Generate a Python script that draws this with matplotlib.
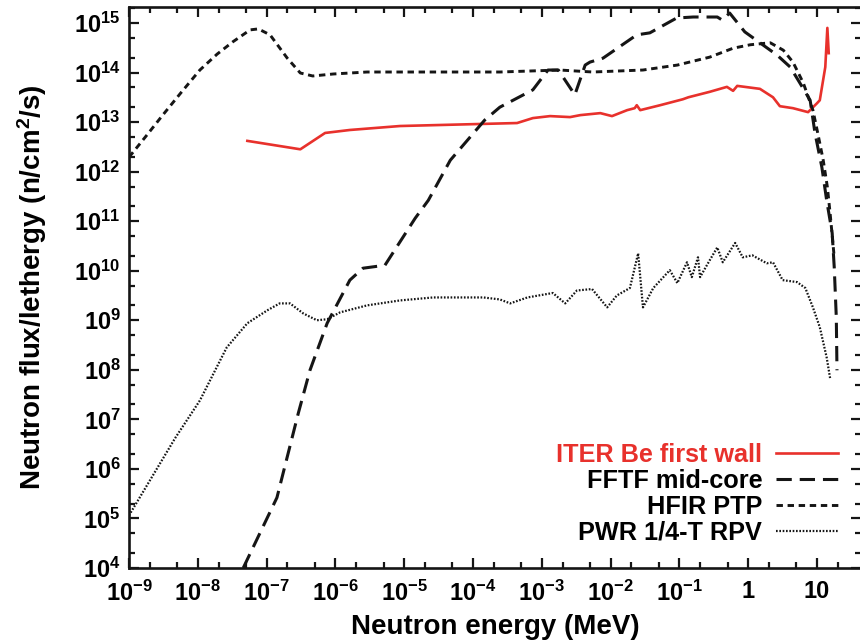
import numpy as np
import matplotlib
matplotlib.use('Agg')
import matplotlib.pyplot as plt
from matplotlib.ticker import FixedLocator, FixedFormatter, NullFormatter

plt.rcParams['font.family'] = ['Liberation Sans', 'DejaVu Sans']
plt.rcParams['font.weight'] = 'bold'
plt.rcParams['mathtext.fontset'] = 'custom'
plt.rcParams['mathtext.rm'] = 'Liberation Sans:bold'
plt.rcParams['mathtext.it'] = 'Liberation Sans:bold'
plt.rcParams['mathtext.bf'] = 'Liberation Sans:bold'
plt.rcParams['mathtext.default'] = 'rm'

# data, as log10(energy / MeV) and log10(flux)
iter_logE = [-7.28, -6.51, -6.15, -5.79, -5.06, -3.36, -3.13, -2.88, -2.59, -2.44,
             -2.15, -1.98, -1.76, -1.65, -1.62, -1.57, -1.28, -0.95, -0.87, -0.56,
             -0.31, -0.22, -0.16, 0.17, 0.36, 0.46, 0.65, 0.87, 1.0, 1.04,
             1.12, 1.15, 1.17]
iter_logF = [12.62, 12.45, 12.78, 12.84, 12.92, 12.98, 13.08, 13.12, 13.10, 13.14,
             13.18, 13.12, 13.24, 13.28, 13.34, 13.24, 13.34, 13.46, 13.50, 13.61,
             13.71, 13.63, 13.73, 13.67, 13.50, 13.32, 13.28, 13.20, 13.38, 13.44,
             14.11, 14.90, 14.39]

fftf_logE = [-7.34, -6.85, -6.54, -6.37, -6.12, -5.79, -5.60, -5.28, -4.84, -4.65,
             -4.33, -3.83, -3.61, -3.13, -2.91, -2.76, -2.52, -2.37, -2.30, -2.11,
             -1.62, -1.43, -1.04, -0.80, -0.45, -0.38, -0.27, -0.05, 0.17, 0.42,
             0.61, 0.75, 0.90, 0.97, 1.07, 1.14, 1.22, 1.25, 1.28, 1.29]
fftf_logF = [4.0, 5.42, 7.12, 7.99, 8.94, 9.81, 10.05, 10.11, 11.06, 11.42,
             12.23, 13.04, 13.30, 13.65, 14.05, 14.05, 13.55, 14.15, 14.21, 14.29,
             14.76, 14.80, 15.10, 15.12, 15.12, 15.06, 15.20, 14.82, 14.60, 14.35,
             14.11, 13.79, 13.44, 12.78, 12.09, 11.42, 10.76, 10.07, 9.06, 7.99]

hfir_logE = [-9.0, -8.75, -8.51, -8.24, -7.97, -7.72, -7.49, -7.24, -7.12, -6.95,
             -6.70, -6.51, -6.33, -6.03, -5.54, -5.06, -3.61, -2.74, -2.26, -1.53,
             -1.03, -0.56, -0.22, 0.03, 0.32, 0.51, 0.65, 0.80, 0.94, 1.01,
             1.09, 1.15, 1.19, 1.25]
hfir_logF = [12.29, 12.72, 13.14, 13.60, 14.05, 14.37, 14.62, 14.86, 14.88, 14.76,
             14.29, 13.99, 13.93, 13.97, 14.01, 14.01, 14.01, 14.05, 14.01, 14.05,
             14.15, 14.31, 14.49, 14.56, 14.60, 14.45, 14.21, 13.79, 13.24, 12.78,
             12.23, 11.69, 11.16, 10.27]

pwr_logE = [-9.0, -8.33, -7.97, -7.58, -7.28, -6.99, -6.81, -6.66, -6.47, -6.27,
            -6.12, -5.93, -5.54, -5.06, -4.58, -3.85, -3.61, -3.46, -3.21, -2.84,
            -2.66, -2.49, -2.27, -2.05, -1.91, -1.72, -1.60, -1.53, -1.38, -1.14,
            -1.03, -0.89, -0.82, -0.73, -0.70, -0.56, -0.45, -0.37, -0.19, -0.08,
            0.06, 0.27, 0.36, 0.50, 0.71, 0.83, 0.94, 1.04, 1.14, 1.19]
pwr_logF = [5.06, 6.62, 7.38, 8.45, 8.94, 9.20, 9.34, 9.34, 9.14, 9.00,
            9.02, 9.16, 9.30, 9.40, 9.46, 9.46, 9.42, 9.34, 9.46, 9.55,
            9.34, 9.60, 9.63, 9.26, 9.50, 9.65, 10.35, 9.26, 9.65, 10.01,
            9.75, 10.17, 9.87, 10.27, 9.87, 10.21, 10.47, 10.17, 10.56, 10.27,
            10.31, 10.15, 10.17, 9.81, 9.77, 9.65, 9.26, 8.86, 8.25, 7.83]

labels = ['ITER Be first wall', 'FFTF mid-core', 'HFIR PTP', 'PWR 1/4-T RPV']

xdecades = list(range(-9, 2))
xticklabels = ['$10^{%d}$' % d for d in xdecades[:-2]] + ['1', '10']
ydecades = list(range(4, 16))
yticklabels = ['$10^{%d}$' % d for d in ydecades]

red = '#e8312c'
ink = '#151515'

fig = plt.figure(figsize=(8.6, 6.41), dpi=100)
# right spine sits just past the picture's edge, as in the source
ax = fig.add_axes([0.15, 0.1139, 0.8512, 0.8752])

ax.plot(10**np.array(iter_logE), 10**np.array(iter_logF), '-', color=red, lw=1.9,
        label=labels[0])
ax.plot(10**np.array(fftf_logE), 10**np.array(fftf_logF), color=ink, lw=2.2,
        dashes=(5, 2.6), label=labels[1])
ax.plot(10**np.array(hfir_logE), 10**np.array(hfir_logF), color=ink, lw=2.1,
        dashes=(2.2, 1.6), label=labels[2])
ax.plot(10**np.array(pwr_logE), 10**np.array(pwr_logF), color=ink, lw=1.6,
        dashes=(0.75, 0.75), label=labels[3])

ax.set_xscale('log')
ax.set_yscale('log')
ax.set_xlim(1e-9, 43.6)
ax.set_ylim(1e4, 2.1e15)

xminor = [m * 10.0**d for d in range(-9, 2) for m in (2, 5)]
yminor = [m * 10.0**d for d in range(4, 16) for m in (2, 5)]
ax.xaxis.set_major_locator(FixedLocator([10.0**d for d in xdecades]))
ax.xaxis.set_major_formatter(FixedFormatter(xticklabels))
ax.xaxis.set_minor_locator(FixedLocator(xminor))
ax.xaxis.set_minor_formatter(NullFormatter())
ax.yaxis.set_major_locator(FixedLocator([10.0**d for d in ydecades]))
ax.yaxis.set_major_formatter(FixedFormatter(yticklabels))
ax.yaxis.set_minor_locator(FixedLocator(yminor))
ax.yaxis.set_minor_formatter(NullFormatter())

ax.tick_params(which='both', direction='in', top=True, right=True, width=1.6,
               color=ink)
ax.tick_params(which='major', length=7, labelsize=17)
ax.tick_params(axis='x', which='major', pad=9)
ax.tick_params(axis='y', which='major', pad=6)
ax.tick_params(which='minor', length=4.5)
for s in ax.spines.values():
    s.set_linewidth(1.9)
    s.set_color(ink)

ax.set_xlabel('Neutron energy (MeV)', fontsize=20, fontweight='bold', labelpad=6)
ax.set_ylabel('Neutron flux/lethergy (n/cm$^2$/s)', fontsize=20, fontweight='bold',
              labelpad=18)

leg = ax.legend(loc='lower right', bbox_to_anchor=(838 / 860, (641 - 545) / 641),
                bbox_transform=fig.transFigure, frameon=False, markerfirst=False,
                fontsize=18.2, handlelength=2.45, handletextpad=0.55,
                labelspacing=0.08, borderpad=0, borderaxespad=0)
leg.get_texts()[0].set_color(red)
for t in leg.get_texts():
    t.set_fontweight('bold')

fig.savefig('out.png', dpi=100)
